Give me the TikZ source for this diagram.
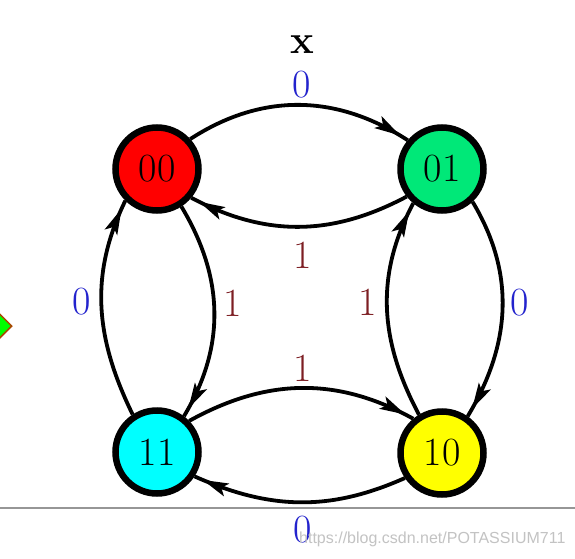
\documentclass[tikz,border=0pt]{standalone}
\usepackage{fontspec}
\newfontfamily\wmfont{Liberation Sans}
\usetikzlibrary{arrows.meta,decorations.markings,shapes.geometric}
\definecolor{cred}{RGB}{255,0,0}
\definecolor{cgreen}{RGB}{0,232,120}
\definecolor{ccyan}{RGB}{0,255,255}
\definecolor{cyellow}{RGB}{255,255,0}
\definecolor{lblue}{RGB}{35,35,205}
\definecolor{lred}{RGB}{125,30,35}
\definecolor{wmgray}{RGB}{195,195,195}
\definecolor{rulegray}{RGB}{150,150,150}
\definecolor{dborder}{RGB}{170,70,0}
\definecolor{dgreen}{RGB}{0,255,0}
\tikzset{
  state/.style={circle,draw=black,line width=6.5pt,minimum size=83pt,inner sep=0pt,
    font=\fontsize{40}{46}\selectfont},
  edge/.style={line width=3.8pt,draw=black,postaction={decorate},
    decoration={markings,mark=at position -9pt with {\fill[black] (-26pt,-7pt) -- (0pt,0pt) -- (-26pt,7pt) -- (-20pt,0pt) -- cycle;}}},
  lbl0/.style={text=lblue,font=\fontsize{40}{46}\selectfont,inner sep=0pt},
  lbl1/.style={text=lred,font=\fontsize{40}{46}\selectfont,inner sep=0pt},
}
\begin{document}
\begin{tikzpicture}[x=1pt,y=1pt]
\useasboundingbox (0,0) rectangle (575,558);
\fill[white] (0,0) rectangle (575,558);
% rule and marker
\draw[rulegray,line width=1.5pt] (0,50) -- (575,50);
\node[diamond,draw=dborder,fill=dgreen,line width=1.5pt,minimum size=24pt,inner sep=0pt] (dia) at (0,232) {};
% states
\node[state,fill=cred]    (n00) at (157,389) {00};
\node[state,fill=cgreen]  (n01) at (442,389) {01};
\node[state,fill=ccyan]   (n11) at (157,106) {11};
\node[state,fill=cyellow] (n10) at (442,105) {10};
% edges
\draw[edge] (n00.42)  to[out=33,in=147]  (n01.140);
\draw[edge] (n01.218) to[out=208,in=-28] (n00.-40);
\draw[edge] (n00.-57) to[out=-59,in=59]  (n11.53);
\draw[edge] (n11.123) to[out=116,in=244] (n00.225);
\draw[edge] (n01.-47) to[out=-59,in=59]  (n10.55);
\draw[edge] (n10.121) to[out=118,in=242] (n01.230);
\draw[edge] (n11.44)  to[out=29,in=151]  (n10.130);
\draw[edge] (n10.214) to[out=204,in=-24] (n11.-33);
% labels
\node[font=\fontsize{40}{46}\selectfont\bfseries,inner sep=0pt] (lx) at (302,513) {x};
\node[lbl0] (la) at (302,473) {0};
\node[lbl1] (lb) at (303,303) {1};
\node[lbl0] (lc) at (82,256) {0};
\node[lbl1] (ld) at (233,255) {1};
\node[lbl1] (le) at (368,256) {1};
\node[lbl0] (lf) at (520,255) {0};
\node[lbl1] (lg) at (303,190) {1};
\node[lbl0] (lh) at (303,28) {0};
% watermark
\node[anchor=base west,inner sep=0pt,text=wmgray,font=\wmfont\fontsize{16}{18}\selectfont] (wm) at (299,15) {https://blog.csdn.net/POTASSIUM711};
\end{tikzpicture}
\end{document}
